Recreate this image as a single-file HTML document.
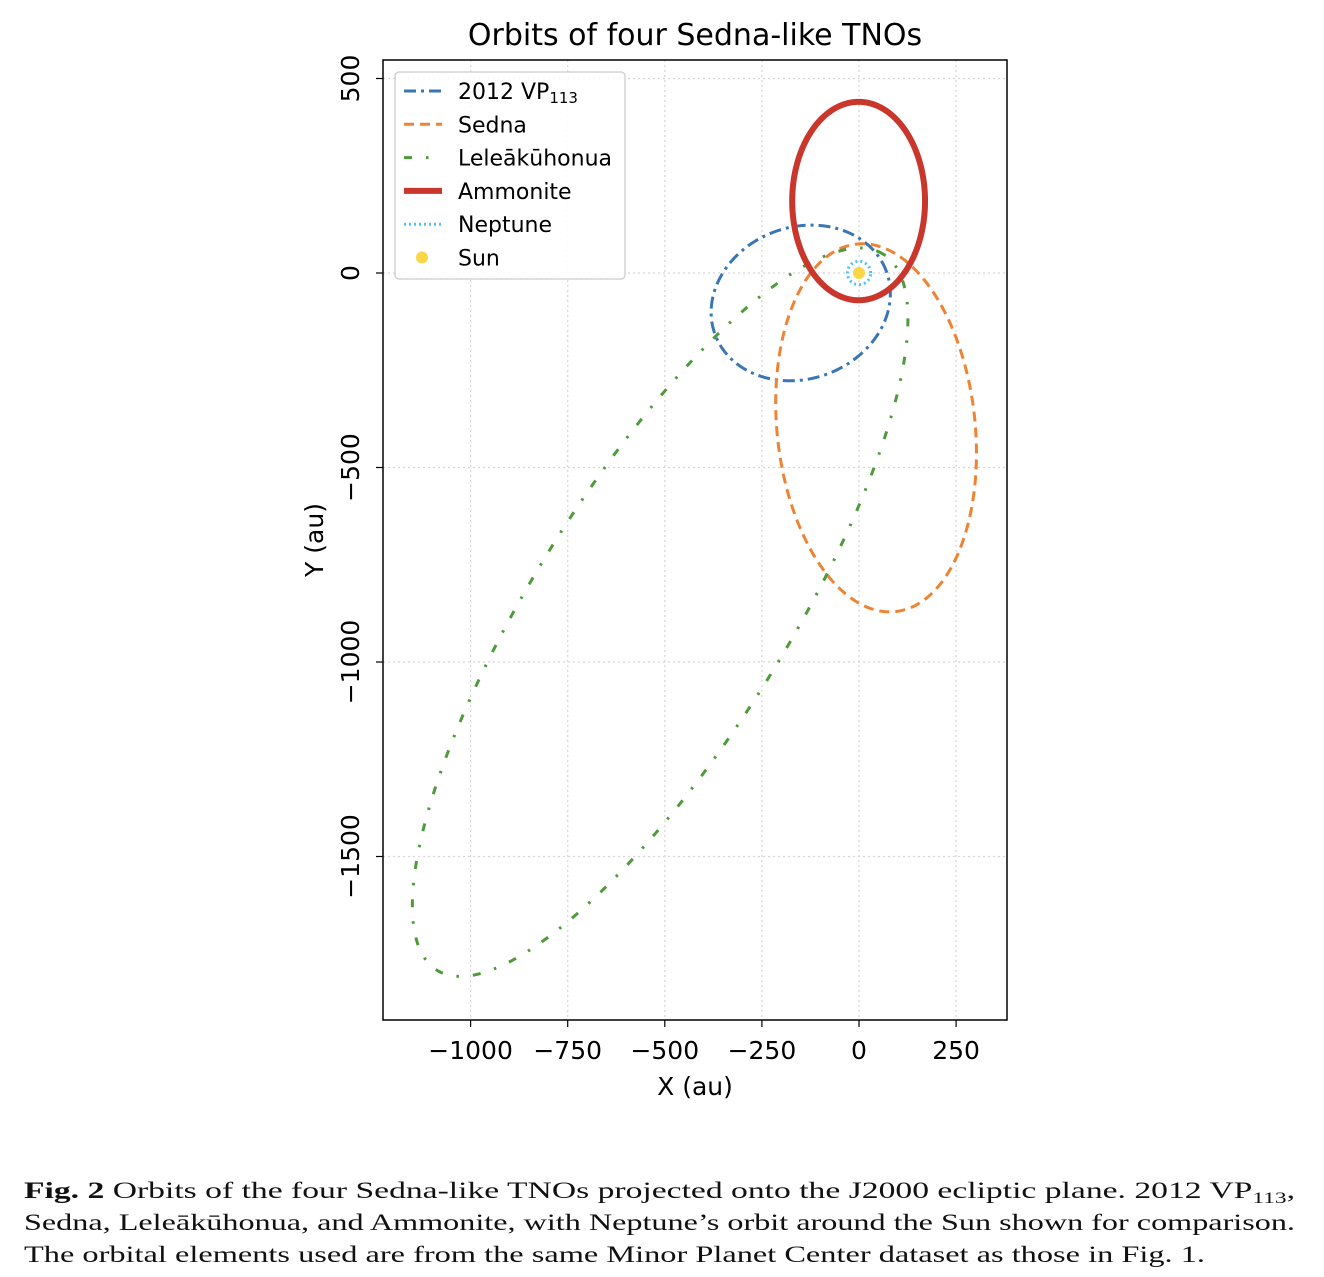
<!DOCTYPE html>
<html><head><meta charset="utf-8"><style>
body{margin:0;background:#fff;width:1324px;height:1277px;overflow:hidden}
#chart text{font-family:"DejaVu Sans","Liberation Sans",sans-serif}
#cap text{font-family:"Liberation Serif","DejaVu Serif",serif;fill:#111}
</style></head><body>
<svg id="chart" width="1324" height="1160" style="position:absolute;left:0;top:0">
<text x="695" y="45" font-size="30" text-anchor="middle">Orbits of four Sedna-like TNOs</text>
<g id="grid"></g><g id="orbits"></g><g id="axes"></g>
<text x="695" y="1095" font-size="25" text-anchor="middle">X (au)</text>
<text transform="translate(323,540) rotate(-90)" font-size="25" text-anchor="middle">Y (au)</text>
<g id="legend"></g>
</svg>
<svg id="cap" width="1324" height="117" style="position:absolute;left:0;top:1160px">
<text x="24" y="38" font-size="23" textLength="1271" lengthAdjust="spacingAndGlyphs"><tspan font-weight="bold">Fig. 2</tspan>  Orbits of the four Sedna-like TNOs projected onto the J2000 ecliptic plane. 2012 VP<tspan font-size="16" dy="5">113</tspan><tspan dy="-5">,</tspan></text>
<text x="24" y="70" font-size="23" textLength="1271" lengthAdjust="spacingAndGlyphs">Sedna, Leleākūhonua, and Ammonite, with Neptune’s orbit around the Sun shown for comparison.</text>
<text x="24" y="102" font-size="23" textLength="1181" lengthAdjust="spacingAndGlyphs">The orbital elements used are from the same Minor Planet Center dataset as those in Fig. 1.</text>
</svg>
<script>
const xTicks=[-1000,-750,-500,-250,0,250];
const yTicks=[500,0,-500,-1000,-1500];
const orbitNames=["2012 VP113","Sedna","Leleākūhonua","Ammonite","Neptune"];
const centerX=[-150,44,-512,-1,0];
const centerY=[-77,-398,-872,185,0];
const semiMajor=[235,475,1085,255,30];
const semiMinor=[195,255,326,171,30];
const angleDeg=[20,-84,58,90,0];
const NS="http://www.w3.org/2000/svg";
const L=383,R=1007,T=60,B=1020;
const sx=v=>859+v*0.3884, sy=v=>273-v*0.3890;
function mk(t,a,p){const e=document.createElementNS(NS,t);for(const k in a)e.setAttribute(k,a[k]);(p||document.getElementById('chart')).appendChild(e);return e;}
const grid=document.getElementById('grid'),axes=document.getElementById('axes'),orb=document.getElementById('orbits');
xTicks.forEach(v=>{const l=mk('line',{x1:sx(v),x2:sx(v),y1:T,y2:B,stroke:'#d6d6d6','stroke-width':1.2,'stroke-dasharray':'2,3'},grid);

const k=mk('line',{x1:sx(v),x2:sx(v),y1:B,y2:B+7,stroke:'#000','stroke-width':1.2},axes);

const t=mk('text',{x:sx(v),y:B+39,'font-size':25,'text-anchor':'middle'},axes);t.textContent=(v<0?'\u2212'+(-v):v);
});
yTicks.forEach(v=>{const l=mk('line',{x1:L,x2:R,y1:sy(v),y2:sy(v),stroke:'#d6d6d6','stroke-width':1.2,'stroke-dasharray':'2,3'},grid);

const k=mk('line',{x1:L-7,x2:L,y1:sy(v),y2:sy(v),stroke:'#000','stroke-width':1.2},axes);

const t=mk('text',{transform:`translate(${L-24},${sy(v)}) rotate(-90)`,'font-size':25,'text-anchor':'middle'},axes);t.textContent=(v<0?'\u2212'+(-v):v);
});
const fr=mk('rect',{x:L,y:T,width:R-L,height:B-T,fill:'none',stroke:'#000','stroke-width':1.5},axes);

const styles=[{c:'#3a76b3',w:3,d:'12,5,3,5'},{c:'#ee8433',w:3,d:'10,6'},{c:'#4f9a3a',w:3,d:'8,14,2.5,14'},{c:'#c9372c',w:6,d:''},{c:'#4fc3f7',w:3,d:'2,3'}];
const slugs=['orbit-2012-vp113','orbit-sedna','orbit-leleakuhonua','orbit-ammonite','orbit-neptune'];
orbitNames.forEach((n,i)=>{const th=angleDeg[i]*Math.PI/180;let d='';
for(let k=0;k<=360;k++){const t=k*Math.PI/180;const x=semiMajor[i]*Math.cos(t),y=semiMinor[i]*Math.sin(t);
const X=centerX[i]+x*Math.cos(th)-y*Math.sin(th),Y=centerY[i]+x*Math.sin(th)+y*Math.cos(th);d+=(k?'L':'M')+sx(X).toFixed(2)+','+sy(Y).toFixed(2);}
const p=mk('path',{d:d+'Z',fill:'none',stroke:styles[i].c,'stroke-width':styles[i].w,'stroke-dasharray':styles[i].d},orb);
});
const sun=mk('circle',{cx:sx(0),cy:sy(0),r:6,fill:'#fbd646'},orb);

const lg=document.getElementById('legend');
const box=mk('rect',{x:395,y:72,width:230,height:207,rx:4,fill:'#fff','fill-opacity':0.85,stroke:'#ccc','stroke-width':1.3},lg);

const labs=['2012 VP','Sedna','Leleākūhonua','Ammonite','Neptune','Sun'];
labs.forEach((s,i)=>{const y=91+i*33.3;
if(i<5){const l=mk('line',{x1:404,x2:442,y1:y,y2:y,stroke:styles[i].c,'stroke-width':styles[i].w,'stroke-dasharray':styles[i].d},lg);
}
else{const c=mk('circle',{cx:422,cy:y,r:6,fill:'#fbd646'},lg);}
const t=mk('text',{x:458,y:y+8,'font-size':22},lg);t.textContent=s;
if(i==0){const ts=document.createElementNS(NS,'tspan');ts.setAttribute('font-size','15');ts.setAttribute('dy','4');ts.textContent='113';t.appendChild(ts);}
});
</script>
</body></html>
